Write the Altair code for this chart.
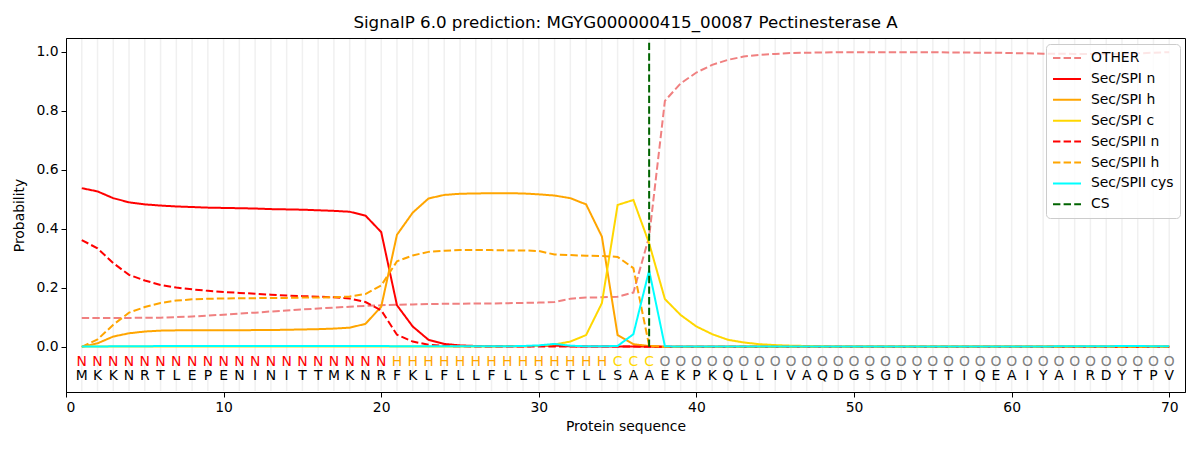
import altair as alt
import pandas as pd

positions = list(range(1, 71))
sequence = list("MKKNRTLEPENINITTMKNRFKLFLLFLLSCTLLSAAEKPKQLLIVAQDGSGDYTTIQEAIYAIRDYTPV")
track = list("N" * 20 + "H" * 14 + "C" * 3 + "O" * 33)

other = [0.098, 0.098, 0.098, 0.098, 0.099, 0.099, 0.101, 0.103, 0.106, 0.109,
         0.113, 0.116, 0.120, 0.123, 0.127, 0.130, 0.133, 0.136, 0.139, 0.141,
         0.143, 0.144, 0.145, 0.146, 0.146, 0.147, 0.147, 0.148, 0.149, 0.150,
         0.152, 0.163, 0.167, 0.168, 0.170, 0.184, 0.374, 0.834, 0.893, 0.930,
         0.956, 0.973, 0.984, 0.990, 0.993, 0.996, 0.997, 0.998, 0.999, 0.999,
         0.999, 0.999, 0.999, 0.999, 0.999, 0.998, 0.998, 0.997, 0.997, 0.996,
         0.995, 0.994, 0.994, 0.993, 0.993, 0.993, 0.994, 0.995, 0.997, 0.999]
spi_n = [0.538, 0.527, 0.504, 0.490, 0.483, 0.479, 0.476, 0.474, 0.472, 0.471,
         0.470, 0.469, 0.467, 0.466, 0.465, 0.463, 0.461, 0.458, 0.445, 0.389,
         0.141, 0.069, 0.024, 0.010, 0.005, 0.003, 0.002, 0.002, 0.002, 0.003,
         0.004, 0.002, 0.001, 0.001, 0.001, 0.001, 0.001, 0.000, 0.000, 0.000,
         0.000, 0.000, 0.000, 0.000, 0.000, 0.000, 0.000, 0.000, 0.000, 0.000,
         0.000, 0.000, 0.000, 0.000, 0.000, 0.000, 0.000, 0.000, 0.000, 0.000,
         0.000, 0.000, 0.000, 0.000, 0.000, 0.000, 0.000, 0.000, 0.000, 0.000]
spi_h = [0.000, 0.012, 0.035, 0.046, 0.052, 0.055, 0.056, 0.056, 0.056, 0.056,
         0.056, 0.057, 0.057, 0.058, 0.059, 0.060, 0.062, 0.065, 0.078, 0.136,
         0.380, 0.455, 0.503, 0.515, 0.519, 0.520, 0.521, 0.521, 0.520, 0.517,
         0.513, 0.504, 0.483, 0.374, 0.040, 0.009, 0.003, 0.000, 0.000, 0.000,
         0.000, 0.000, 0.000, 0.000, 0.000, 0.000, 0.000, 0.000, 0.000, 0.000,
         0.000, 0.000, 0.000, 0.000, 0.000, 0.000, 0.000, 0.000, 0.000, 0.000,
         0.000, 0.000, 0.000, 0.000, 0.000, 0.000, 0.000, 0.000, 0.000, 0.000]
spi_c = [0.001, 0.001, 0.001, 0.001, 0.001, 0.001, 0.001, 0.001, 0.001, 0.001,
         0.001, 0.001, 0.001, 0.001, 0.001, 0.001, 0.001, 0.001, 0.001, 0.001,
         0.001, 0.001, 0.001, 0.001, 0.001, 0.001, 0.001, 0.002, 0.002, 0.003,
         0.008, 0.018, 0.040, 0.148, 0.481, 0.498, 0.351, 0.162, 0.108, 0.069,
         0.043, 0.024, 0.015, 0.009, 0.006, 0.004, 0.003, 0.002, 0.001, 0.001,
         0.001, 0.001, 0.001, 0.001, 0.001, 0.001, 0.001, 0.001, 0.001, 0.001,
         0.001, 0.001, 0.001, 0.001, 0.001, 0.001, 0.001, 0.001, 0.001, 0.001]
spii_n = [0.362, 0.334, 0.284, 0.244, 0.225, 0.210, 0.201, 0.195, 0.190, 0.186,
          0.183, 0.180, 0.177, 0.174, 0.172, 0.170, 0.168, 0.164, 0.152, 0.124,
          0.041, 0.018, 0.007, 0.003, 0.002, 0.001, 0.001, 0.001, 0.001, 0.001,
          0.001, 0.001, 0.001, 0.001, 0.001, 0.001, 0.000, 0.000, 0.000, 0.000,
          0.000, 0.000, 0.000, 0.000, 0.000, 0.000, 0.000, 0.000, 0.000, 0.000,
          0.000, 0.000, 0.000, 0.000, 0.000, 0.000, 0.000, 0.000, 0.000, 0.000,
          0.000, 0.000, 0.000, 0.000, 0.000, 0.000, 0.000, 0.000, 0.000, 0.000]
spii_h = [0.000, 0.025, 0.075, 0.116, 0.135, 0.149, 0.157, 0.161, 0.163, 0.164,
          0.165, 0.165, 0.166, 0.166, 0.167, 0.167, 0.168, 0.171, 0.179, 0.208,
          0.290, 0.310, 0.322, 0.326, 0.328, 0.328, 0.328, 0.327, 0.327, 0.325,
          0.313, 0.311, 0.309, 0.308, 0.305, 0.267, 0.004, 0.000, 0.000, 0.000,
          0.000, 0.000, 0.000, 0.000, 0.000, 0.000, 0.000, 0.000, 0.000, 0.000,
          0.000, 0.000, 0.000, 0.000, 0.000, 0.000, 0.000, 0.000, 0.000, 0.000,
          0.000, 0.000, 0.000, 0.000, 0.000, 0.000, 0.000, 0.000, 0.000, 0.000]
spii_cys = [0.001, 0.001, 0.002, 0.002, 0.002, 0.003, 0.003, 0.003, 0.003, 0.003,
            0.003, 0.003, 0.003, 0.003, 0.003, 0.003, 0.003, 0.003, 0.003, 0.003,
            0.002, 0.002, 0.002, 0.002, 0.002, 0.002, 0.002, 0.002, 0.003, 0.005,
            0.010, 0.004, 0.002, 0.002, 0.003, 0.043, 0.259, 0.002, 0.001, 0.001,
            0.001, 0.001, 0.001, 0.001, 0.001, 0.001, 0.001, 0.001, 0.001, 0.001,
            0.001, 0.001, 0.001, 0.001, 0.001, 0.001, 0.001, 0.001, 0.001, 0.001,
            0.001, 0.001, 0.002, 0.002, 0.002, 0.002, 0.003, 0.003, 0.002, 0.002]

cs_pos = 37
cs_top = 1.04

series_names = ["OTHER", "Sec/SPI n", "Sec/SPI h", "Sec/SPI c",
                "Sec/SPII n", "Sec/SPII h", "Sec/SPII cys", "CS"]
series_colors = ["#f08080", "#ff0000", "#ffa500", "#ffd700",
                 "#ff0000", "#ffa500", "#00ffff", "#006400"]
dash = [7.4, 3.2]
solid = [1, 0]
series_dash = [dash, solid, solid, solid, dash, dash, solid, dash]

track_colors = {"N": "#ff0000", "H": "#ffa500", "C": "#ffd700", "O": "#808080"}

values = [other, spi_n, spi_h, spi_c, spii_n, spii_h, spii_cys]
rows = []
for name, vals in zip(series_names[:7], values):
    for p, v in zip(positions, vals):
        rows.append({"pos": p, "prob": v, "series": name})
df = pd.DataFrame(rows)

cs_df = pd.DataFrame({"pos": [cs_pos], "y0": [0.0], "y1": [cs_top], "series": ["CS"]})
grid_df = pd.DataFrame({"pos": positions})
lab_df = pd.DataFrame({"pos": positions, "aa": sequence, "trk": track})
lab_df["ytrk"] = -0.05
lab_df["yaa"] = -0.10

W, H = 1119, 354

xscale = alt.Scale(domain=[0, 71], nice=False, zero=False)
yscale = alt.Scale(domain=[-0.153, 1.047], nice=False, zero=False)
color_scale = alt.Scale(domain=series_names, range=series_colors)
dash_scale = alt.Scale(domain=series_names, range=series_dash)

xaxis = alt.Axis(values=[0, 10, 20, 30, 40, 50, 60, 70], title="Protein sequence",
                 grid=False, format="d")
yaxis = alt.Axis(values=[0.0, 0.2, 0.4, 0.6, 0.8, 1.0], title="Probability",
                 grid=False, format=".1f")

grid = alt.Chart(grid_df).mark_rule(color="#f0f0f0", strokeWidth=1.5).encode(
    x=alt.X("pos:Q", scale=xscale, axis=xaxis),
    y=alt.value(1),
    y2=alt.value(H - 1),
)

legend = alt.Legend(title=None, orient="none", legendX=980, legendY=6,
                    symbolType="M-1,0H3", symbolSize=196, symbolStrokeWidth=2,
                    labelFontSize=13.9, labelFont="DejaVu Sans", rowPadding=5.9,
                    fillColor="rgba(255,255,255,0.8)", strokeColor="#cccccc",
                    cornerRadius=4, padding=6, labelOffset=23)

lines = alt.Chart(df).mark_line(strokeWidth=2).encode(
    x=alt.X("pos:Q", scale=xscale, axis=xaxis),
    y=alt.Y("prob:Q", scale=yscale, axis=yaxis),
    color=alt.Color("series:N", scale=color_scale, legend=legend),
    strokeDash=alt.StrokeDash("series:N", scale=dash_scale, legend=legend),
    detail="series:N",
)

cs = alt.Chart(cs_df).mark_rule(strokeWidth=2).encode(
    x=alt.X("pos:Q", scale=xscale),
    y=alt.Y("y0:Q", scale=yscale),
    y2="y1:Q",
    color=alt.Color("series:N", scale=color_scale, legend=legend),
    strokeDash=alt.StrokeDash("series:N", scale=dash_scale, legend=legend),
)

text_layers = []
for t, c in track_colors.items():
    sub = lab_df[lab_df["trk"] == t]
    text_layers.append(
        alt.Chart(sub).mark_text(fontSize=13.9, font="DejaVu Sans", color=c,
                                 baseline="middle", align="center").encode(
            x=alt.X("pos:Q", scale=xscale),
            y=alt.Y("ytrk:Q", scale=yscale),
            text="trk:N",
        )
    )
aa_text = alt.Chart(lab_df).mark_text(fontSize=13.9, font="DejaVu Sans", color="black",
                                      baseline="middle", align="center").encode(
    x=alt.X("pos:Q", scale=xscale),
    y=alt.Y("yaa:Q", scale=yscale),
    text="aa:N",
)

chart = alt.layer(grid, lines, cs, *text_layers, aa_text).properties(
    width=W, height=H,
    autosize=alt.AutoSizeParams(type="none"),
    padding={"left": 58, "top": 30, "right": 7, "bottom": 50},
    title=alt.Title("SignalP 6.0 prediction: MGYG000000415_00087 Pectinesterase A",
                    fontSize=16.7, fontWeight="normal", font="DejaVu Sans",
                    color="black", offset=6),
).configure_view(stroke="black", strokeWidth=1).configure_axis(
    labelFont="DejaVu Sans", titleFont="DejaVu Sans", labelFontSize=13.9,
    titleFontSize=13.9, titleFontWeight="normal", labelColor="black",
    titleColor="black", domainColor="black", tickColor="black", tickSize=5,
    labelPadding=3,
).configure_axisY(titlePadding=9).configure_axisX(titlePadding=6)

chart.save("out.html", embed_options={"renderer": "svg", "actions": False})
